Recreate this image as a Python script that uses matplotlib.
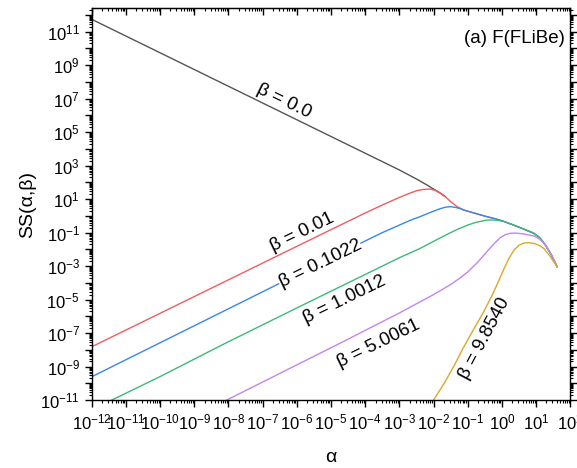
import numpy as np
import matplotlib
matplotlib.use("Agg")
import matplotlib.pyplot as plt
from matplotlib.ticker import FixedLocator, FuncFormatter, LogLocator, NullFormatter

plt.rcParams['font.family'] = ['Liberation Sans', 'DejaVu Sans']
plt.rcParams['mathtext.fontset'] = 'custom'
plt.rcParams['mathtext.rm'] = 'Liberation Sans'
plt.rcParams['mathtext.default'] = 'regular'

# curves, as log10(alpha), log10(S)
la_b0 = [-12, -10, -8, -6, -4, -3, -2.5, -2.2, -2.0, -1.8, -1.66]
ls_b0 = [11.74, 9.74, 7.74, 5.74, 3.74, 2.74, 2.2, 1.85, 1.6, 1.35, 1.15]

# shared tail that all beta > 0 curves run into
la_tail = [-0.8, -0.44, -0.15, 0.05, 0.34, 0.65, 0.93, 1.1, 1.27, 1.45, 1.61]
ls_tail = [0.16, -0.05, -0.2, -0.33, -0.55, -0.8, -1.04, -1.3, -1.74, -2.35, -3.04]

la_b001 = [-12, -8, -5, -4, -3.5, -3.0, -2.7, -2.5, -2.3, -2.1, -1.95, -1.8, -1.66, -1.5, -1.315, -1.12]
ls_b001 = [-7.82, -3.82, -0.82, 0.17, 0.65, 1.1, 1.35, 1.5, 1.58, 1.6, 1.52, 1.35, 1.15, 0.85, 0.55, 0.35]

la_b01 = [-12, -8, -5, -4, -3.5, -3.0, -2.7, -2.4, -2.1, -1.85, -1.65, -1.5, -1.35, -1.2, -1.12]
ls_b01 = [-9.61, -5.55, -2.5, -1.5, -1.0, -0.55, -0.28, -0.05, 0.2, 0.4, 0.52, 0.55, 0.5, 0.42, 0.35]

la_b1 = [-11.41, -10, -8.1, -6, -4, -3, -2.39, -2.0, -1.6, -1.3, -1.0, -0.75, -0.44, -0.2, 0.05, 0.34]
ls_b1 = [-11, -9.6, -7.62, -5.5, -3.5, -2.5, -1.94, -1.52, -1.1, -0.8, -0.55, -0.38, -0.25, -0.25, -0.33, -0.55]

la_b5 = [-8.05, -6, -4.68, -3, -2, -1.5, -1.22, -1.0, -0.7, -0.4, -0.2, -0.05, 0.1, 0.25, 0.4, 0.6, 0.8, 0.93, 1.1, 1.27]
ls_b5 = [-11, -8.9, -7.55, -5.8, -4.7, -4.1, -3.7, -3.35, -2.75, -2.04, -1.6, -1.3, -1.12, -1.04, -1.03, -1.07, -1.15, -1.2, -1.38, -1.74]

la_b10 = [-2.0, -1.69, -1.4, -1.15, -0.85, -0.54, -0.29, -0.1, 0.05, 0.2, 0.35, 0.5, 0.65, 0.78, 0.95, 1.1, 1.22, 1.4, 1.61]
ls_b10 = [-11, -10.0, -8.95, -7.95, -6.85, -5.75, -4.75, -3.9, -3.2, -2.55, -2.05, -1.75, -1.62, -1.6, -1.65, -1.78, -1.94, -2.4, -3.04]

labels = ['β = 0.0', 'β = 0.01', 'β = 0.1022', 'β = 1.0012', 'β = 5.0061', 'β = 9.8540']
label_la = [-6.39, -5.85, -5.32, -4.6, -3.61, -0.52]
label_ls = [6.88, -1.0, -2.88, -5.03, -7.61, -7.3]
label_rot = [-26, 26, 26, 26, 26, 62]

colors = ['#555555', '#f25c5c', '#3a86e8', '#3dba78', '#c584f0', '#dba82a']

fig = plt.figure(figsize=(5.77, 4.68), dpi=100)
ax = fig.add_axes([0.159, 0.1453, 0.8295, 0.837])


def tail_from(la, ls, start):
    # append the shared tail beyond the last own point
    xs = list(la) + [a for a in la_tail if a > start]
    ys = list(ls) + [s for a, s in zip(la_tail, ls_tail) if a > start]
    return 10 ** np.array(xs), 10 ** np.array(ys)


ax.plot(10 ** np.array(la_b0), 10 ** np.array(ls_b0), color=colors[0], lw=1.0)
for (la, ls), c in zip([(la_b001, ls_b001), (la_b01, ls_b01), (la_b1, ls_b1),
                        (la_b5, ls_b5)], colors[1:5]):
    x, y = tail_from(la, ls, la[-1])
    ax.plot(x, y, color=c, lw=1.0)
ax.plot(10 ** np.array(la_b10), 10 ** np.array(ls_b10), color=colors[5], lw=1.0)

for t, a, s, r in zip(labels, label_la, label_ls, label_rot):
    ax.text(10 ** a, 10 ** s, t, rotation=r, rotation_mode='anchor', ha='center', va='center',
            fontsize=13.5, zorder=5, bbox=dict(fc='white', ec='none', pad=0.3))

ax.set_xscale('log')
ax.set_yscale('log')
ax.set_xlim(1e-12, 1e2)
ax.set_ylim(1e-11, 10 ** 12.4)

ax.xaxis.set_major_locator(FixedLocator([10.0 ** k for k in range(-12, 3)]))
ax.xaxis.set_major_formatter(FuncFormatter(lambda v, p: r'$10^{%d}$' % round(np.log10(v))))
ax.xaxis.set_minor_locator(LogLocator(base=10, subs=np.arange(2, 10), numticks=100))
ax.xaxis.set_minor_formatter(NullFormatter())

ax.yaxis.set_major_locator(FixedLocator([10.0 ** k for k in range(-11, 13)]))
ax.yaxis.set_major_formatter(FuncFormatter(
    lambda v, p: r'$10^{%d}$' % round(np.log10(v)) if round(np.log10(v)) % 2 else ''))
ax.yaxis.set_minor_locator(LogLocator(base=10, subs=np.arange(2, 10), numticks=100))
ax.yaxis.set_minor_formatter(NullFormatter())

ax.tick_params(which='both', direction='out', labelsize=12, right=True, top=False)
ax.tick_params(which='major', length=5, width=1)
ax.tick_params(which='minor', length=2.5, width=0.8)
ax.tick_params(axis='x', pad=4)

top = ax.secondary_xaxis('top', functions=(lambda v: v, lambda v: v))
top.xaxis.set_major_locator(FixedLocator([10.0 ** k for k in range(-12, 3)]))
top.xaxis.set_minor_locator(LogLocator(base=10, subs=np.arange(2, 10), numticks=100))
top.tick_params(which='both', direction='in', labeltop=False)
top.tick_params(which='major', length=5, width=1)
top.tick_params(which='minor', length=2.5, width=0.8)

for sp in ax.spines.values():
    sp.set_linewidth(1.0)

ax.text(0.9895, 0.923, '(a) F(FLiBe)', transform=ax.transAxes, ha='right', va='center', fontsize=13.5)
ax.set_xlabel('α', fontsize=14, labelpad=12)
ax.set_ylabel('SS(α,β)', fontsize=14, labelpad=3)

fig.savefig('out.png', dpi=100)
